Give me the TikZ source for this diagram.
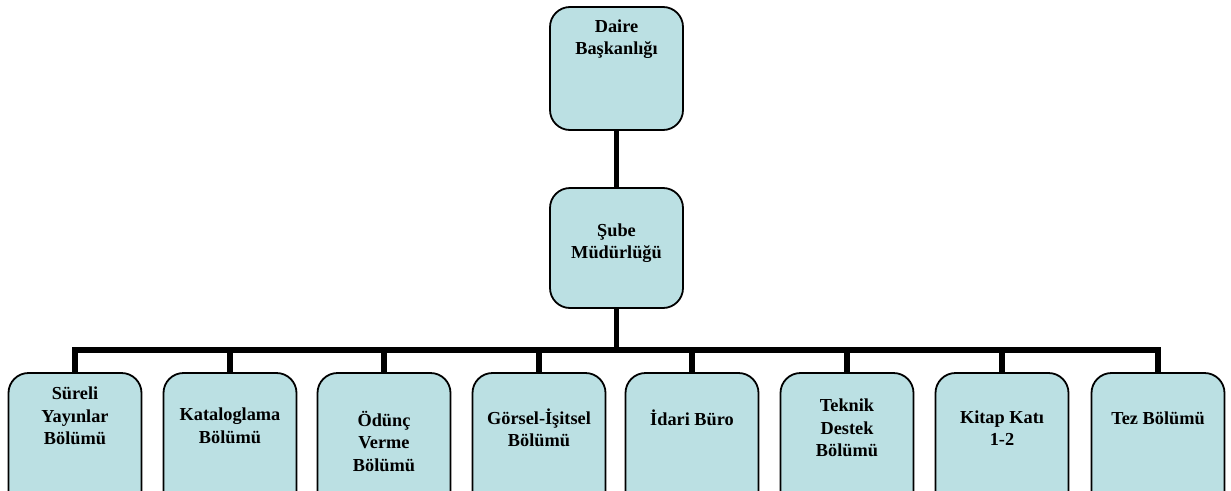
\documentclass[tikz,border=0pt]{standalone}
\usepackage{fontspec}
\setmainfont{Liberation Serif}
\definecolor{boxfill}{HTML}{BBE0E3}
\begin{document}
\begin{tikzpicture}[x=1pt,y=-1pt,
  orgbox/.style={draw=black,line width=1.8pt,fill=boxfill,rounded corners=20pt,inner sep=0pt},
  lbl/.style={align=center,font=\fontsize{18.3}{22.5}\selectfont\bfseries,inner sep=0pt},
  conn/.style={line width=5.5pt,line join=miter}]
\useasboundingbox (0,0) rectangle (1231,490);
\clip (0,0) rectangle (1231,490);
% top boxes
\node[orgbox,minimum width=133pt,minimum height=123pt] (daire) at (616.5,68.5) {};
\node[lbl] (tdaire) at (616.5,39) {Daire\\Başkanlığı};
\node[orgbox,minimum width=133pt,minimum height=120pt] (sube) at (616.5,248) {};
\node[lbl] (tsube) at (616.5,243) {Şube\\Müdürlüğü};
% bottom boxes
\foreach \i/\x in {1/75,2/230,3/384,4/539,5/692,6/847,7/1002,8/1158}{
  \node[orgbox,minimum width=133pt,minimum height=150pt] (b\i) at (\x,448) {};
}
\node[lbl] (t1) at (75,416) {Süreli\\Yayınlar\\Bölümü};
\node[lbl] (t2) at (230,426) {Kataloglama\\Bölümü};
\node[lbl] (t3) at (384,441) {Ödünç\\Verme\\Bölümü};
\node[lbl] (t4) at (539,428) {Görsel-İşitsel\\Bölümü};
\node[lbl] (t5) at (692,418) {İdari Büro};
\node[lbl] (t6) at (847,428) {Teknik\\Destek\\Bölümü};
\node[lbl] (t7) at (1002,428) {Kitap Katı\\1-2};
\node[lbl] (t8) at (1158,418) {Tez Bölümü};
% connectors
\coordinate (bus) at (616.5,350);
\draw[conn] (daire.south) -- (sube.north);
\draw[conn] (sube.south) -- (bus);
\draw[conn] (b1.north) -- (b1.north |- bus) -- (b8.north |- bus) -- (b8.north);
\foreach \i in {2,...,7}{
  \draw[conn] (b\i.north) -- (b\i.north |- bus);
}
\end{tikzpicture}
\end{document}
